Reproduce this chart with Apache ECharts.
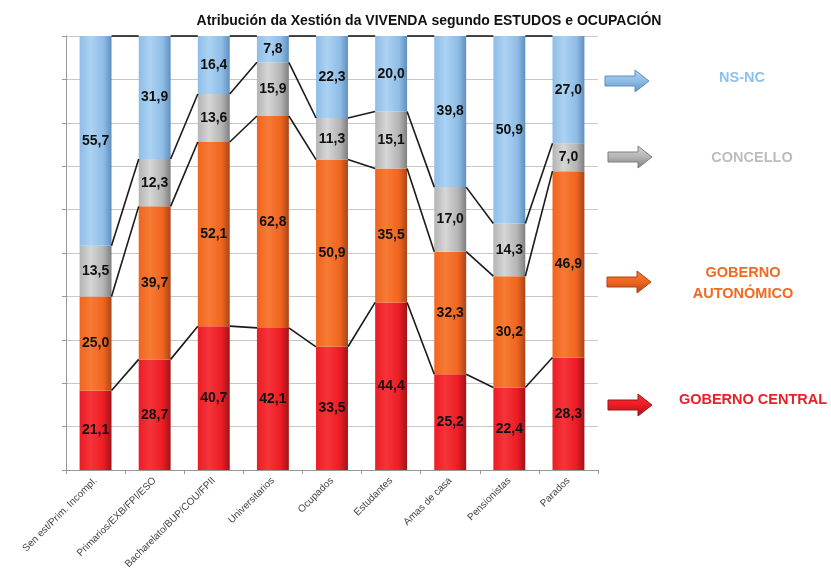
<!DOCTYPE html>
<html>
<head>
<meta charset="utf-8">
<script src="https://cdn.jsdelivr.net/npm/echarts@6/dist/echarts.min.js"></script>
<style>
  html, body { margin: 0; padding: 0; background: #fff; }
  #chart { width: 831px; height: 577px; }
</style>
</head>
<body>
<div id="chart"></div>
<script>
var categories = ['Sen est/Prim. Incompl.', 'Primarios/EXB/FPI/ESO', 'Bacharelato/BUP/COU/FPII',
  'Universitarios', 'Ocupados', 'Estudantes', 'Amas de casa', 'Pensionistas', 'Parados'];
var central = [21.1, 28.7, 40.7, 42.1, 33.5, 44.4, 25.2, 22.4, 28.3];
var autonomico = [25.0, 39.7, 52.1, 62.8, 50.9, 35.5, 32.3, 30.2, 46.9];
var concello = [13.5, 12.3, 13.6, 15.9, 11.3, 15.1, 17.0, 14.3, 7.0];
var nsnc = [55.7, 31.9, 16.4, 7.8, 22.3, 20.0, 39.8, 50.9, 27.0];

var raw = [central, autonomico, concello, nsnc];
var names = ['GOBERNO CENTRAL', 'GOBERNO AUTONÓMICO', 'CONCELLO', 'NS-NC'];
// colores: [claro, base, escuro]
var cols = [
  ['#f5343a', '#ec1c24', '#9e1419'],
  ['#f77a35', '#f0651e', '#a8451a'],
  ['#d6d6d6', '#b4b4b4', '#7e7e7e'],
  ['#abd2f2', '#8fbde6', '#5f8fbf']
];

// totais por columna (100% apilado)
var totals = categories.map(function (c, i) {
  return raw.reduce(function (s, arr) { return s + arr[i]; }, 0);
});
var pct = raw.map(function (arr) {
  return arr.map(function (v, i) { return v / totals[i] * 100; });
});

function grad(c) {
  return new echarts.graphic.LinearGradient(0, 0, 1, 0, [
    { offset: 0, color: c[1] },
    { offset: 0.35, color: c[0] },
    { offset: 0.75, color: c[1] },
    { offset: 1, color: c[2] }
  ]);
}

var barRatio = 0.54;

var series = raw.map(function (arr, k) {
  return {
    name: names[k],
    type: 'bar',
    stack: 'total',
    barWidth: (barRatio * 100) + '%',
    data: pct[k],
    itemStyle: { color: grad(cols[k]) },
    label: {
      show: true,
      position: 'inside',
      fontFamily: 'Liberation Sans',
      fontWeight: 'bold',
      fontSize: 14,
      color: '#111',
      formatter: function (p) {
        return arr[p.dataIndex].toFixed(1).replace('.', ',');
      }
    },
    z: 2
  };
});

// liñas entre columnas (niveis acumulados)
var lineData = [];
for (var i = 0; i < categories.length - 1; i++) {
  var a = 0, b = 0;
  for (var k = 0; k < 4; k++) {
    a += pct[k][i];
    b += pct[k][i + 1];
    lineData.push([i, a, b]);
  }
}
series.push({
  type: 'custom',
  silent: true,
  z: 3,
  data: lineData,
  renderItem: function (params, api) {
    var idx = api.value(0);
    var p1 = api.coord([idx, api.value(1)]);
    var p2 = api.coord([idx + 1, api.value(2)]);
    var half = api.size([1, 0])[0] * barRatio / 2;
    return {
      type: 'line',
      shape: { x1: p1[0] + half, y1: p1[1], x2: p2[0] - half, y2: p2[1] },
      style: { stroke: '#1a1a1a', lineWidth: 1.6 }
    };
  }
});

function arrow(x, y, c) {
  return {
    type: 'polygon',
    shape: {
      points: [[x, y - 5], [x + 30, y - 5], [x + 30, y - 11], [x + 44, y],
        [x + 30, y + 11], [x + 30, y + 5], [x, y + 5]]
    },
    style: {
      fill: new echarts.graphic.LinearGradient(0, 0, 0, 1, [
        { offset: 0, color: c[0] }, { offset: 0.5, color: c[1] }, { offset: 1, color: c[2] }
      ]),
      stroke: c[2],
      lineWidth: 1
    }
  };
}

function legendText(x, y, txt, color) {
  return {
    type: 'text',
    x: x, y: y,
    style: {
      text: txt,
      fill: color,
      font: 'bold 14.5px "Liberation Sans"',
      align: 'center',
      verticalAlign: 'middle',
      lineHeight: 21
    }
  };
}

var option = {
  backgroundColor: '#fff',
  animation: false,
  title: {
    text: 'Atribución da Xestión da VIVENDA segundo ESTUDOS e OCUPACIÓN',
    left: 424, top: 9, textAlign: 'center',
    textStyle: { fontFamily: 'Liberation Sans', fontWeight: 'bold', fontSize: 14, color: '#111' }
  },
  grid: { left: 66, right: 233, top: 36, bottom: 107 },
  xAxis: {
    type: 'category',
    data: categories,
    axisLine: { lineStyle: { color: '#999' } },
    axisTick: { show: true, length: 4, lineStyle: { color: '#999' } },
    axisLabel: {
      rotate: 45, interval: 0, fontSize: 10, color: '#444',
      fontFamily: 'Liberation Sans', margin: 9
    }
  },
  yAxis: {
    type: 'value',
    min: 0, max: 100, interval: 10,
    axisLine: { show: true, lineStyle: { color: '#999' } },
    axisTick: { show: true, inside: false, length: 4, lineStyle: { color: '#999' } },
    axisLabel: { show: false },
    splitLine: { lineStyle: { color: '#c8c8c8' } }
  },
  series: series,
  graphic: [
    arrow(605, 81, cols[3]),
    arrow(608, 157, cols[2]),
    arrow(607, 282, cols[1]),
    arrow(608, 405, cols[0]),
    legendText(742, 78, 'NS-NC', '#8fc0ea'),
    legendText(752, 158, 'CONCELLO', '#bdbdbd'),
    legendText(743, 283, 'GOBERNO\nAUTONÓMICO', '#f06a22'),
    legendText(753, 400, 'GOBERNO CENTRAL', '#e8202a')
  ]
};

var chart = echarts.init(document.getElementById('chart'));
chart.setOption(option);
</script>
</body>
</html>
